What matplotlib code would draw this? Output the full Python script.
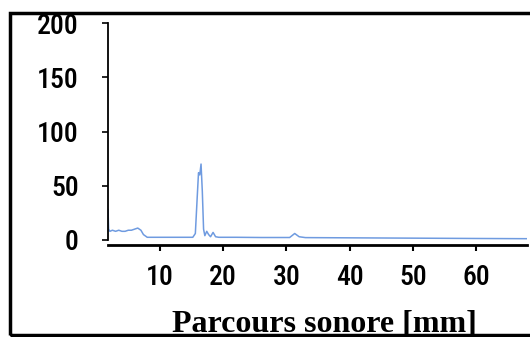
import numpy as np
import matplotlib.pyplot as plt
from matplotlib.patches import Rectangle

# parcours sonore (mm) et amplitude du signal
parcours = [1.8, 1.9, 2.1, 2.5, 3.0, 3.5, 4.0, 4.5, 5.0, 5.5, 6.0, 6.5, 7.0, 7.4,
            8.0, 10.0, 12.0, 14.0, 15.2, 15.6, 15.9, 16.1, 16.3, 16.5, 16.7, 16.9,
            17.1, 17.4, 17.7, 18.0, 18.4, 18.8, 19.3, 22.0, 26.0, 30.5, 31.3, 32.0,
            33.0, 40.0, 50.0, 60.0, 68.0]
amplitude = [28, 10, 8, 9, 8, 9, 8, 8, 9, 9, 10, 11, 9, 5,
             2.5, 2.5, 2.5, 2.5, 2.5, 6, 40, 62, 60, 70, 45, 10,
             4, 8, 5, 3, 7, 3, 2.5, 2.5, 2.3, 2.3, 6, 3,
             2.2, 2.0, 1.7, 1.4, 1.2]

x_ticks = [10, 20, 30, 40, 50, 60]
y_ticks = [0, 50, 100, 150, 200]

fig = plt.figure(figsize=(5.3, 3.37), dpi=100)

# cadre noir autour du graphique (ouvert a droite)
fig.patches.append(Rectangle((10 / 530, 2.5 / 337), 540 / 530, 321.5 / 337,
                             transform=fig.transFigure, fill=False,
                             edgecolor='black', linewidth=2.5))

ax = fig.add_axes([108 / 530, (337 - 240) / 337, (527 - 108) / 530, 217 / 337])
ax.plot(parcours, amplitude, color='#6f9be0', linewidth=1.1)

ax.set_xlim(1.8, 68)
ax.set_ylim(0, 200)
ax.set_xticks(x_ticks)
ax.set_yticks(y_ticks)

ax.spines['top'].set_visible(False)
ax.spines['right'].set_visible(False)
ax.spines['bottom'].set_position(('outward', 3.5))
ax.spines['bottom'].set_linewidth(2)
ax.spines['left'].set_linewidth(1.3)

ax.tick_params(axis='x', direction='out', length=4, width=1.5, pad=10)
ax.tick_params(axis='y', direction='out', length=4, width=1.2, pad=17)
for lab in ax.get_xticklabels() + ax.get_yticklabels():
    lab.set_fontfamily(['Roboto Condensed', 'DejaVu Sans'])
    lab.set_fontweight('medium')
    lab.set_fontsize(20)

fig.text(324 / 530, 5.5 / 337, 'Parcours sonore [mm]', family=['Liberation Serif', 'DejaVu Serif'],
         fontweight='bold', fontsize=23, ha='center', va='baseline')

fig.savefig('out.png', dpi=100)
